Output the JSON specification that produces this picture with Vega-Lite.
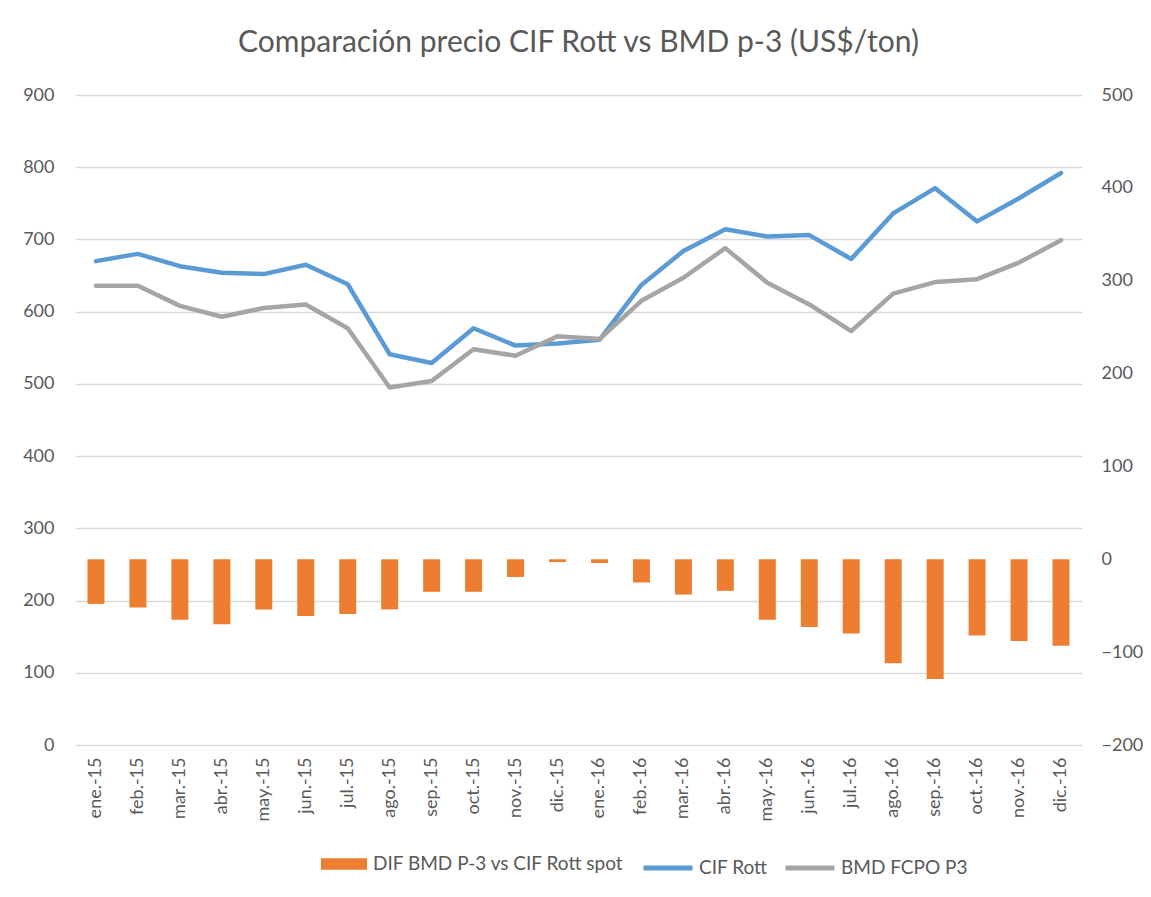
{
  "$schema": "https://vega.github.io/schema/vega-lite/v6.json",
  "autosize": {"type": "none"},
  "width": 1007,
  "height": 650,
  "padding": {"left": 75, "top": 95, "right": 69, "bottom": 152},
  "background": "white",
  "config": {
    "font": "Lato",
    "view": {"stroke": null},
    "axis": {"labelColor": "#595959", "labelFontSize": 18, "labelFont": "Lato", "domain": false, "ticks": false, "title": null},
    "legend": {"labelColor": "#595959", "labelFontSize": 19, "labelFont": "Lato", "labelLimit": 400}
  },
  "title": {
    "text": "Comparación precio CIF Rott vs BMD p-3 (US$/ton)",
    "fontSize": 30,
    "font": "Lato",
    "fontWeight": "normal",
    "color": "#595959",
    "anchor": "middle",
    "frame": "group",
    "baseline": "alphabetic",
    "offset": 4
  },
  "data": {
    "values": [
      {"mes": "ene.-15", "serie": "CIF Rott", "valor": 670},
      {"mes": "feb.-15", "serie": "CIF Rott", "valor": 680},
      {"mes": "mar.-15", "serie": "CIF Rott", "valor": 663},
      {"mes": "abr.-15", "serie": "CIF Rott", "valor": 654},
      {"mes": "may.-15", "serie": "CIF Rott", "valor": 652},
      {"mes": "jun.-15", "serie": "CIF Rott", "valor": 665},
      {"mes": "jul.-15", "serie": "CIF Rott", "valor": 638},
      {"mes": "ago.-15", "serie": "CIF Rott", "valor": 541},
      {"mes": "sep.-15", "serie": "CIF Rott", "valor": 529},
      {"mes": "oct.-15", "serie": "CIF Rott", "valor": 577},
      {"mes": "nov.-15", "serie": "CIF Rott", "valor": 553},
      {"mes": "dic.-15", "serie": "CIF Rott", "valor": 556},
      {"mes": "ene.-16", "serie": "CIF Rott", "valor": 561},
      {"mes": "feb.-16", "serie": "CIF Rott", "valor": 637},
      {"mes": "mar.-16", "serie": "CIF Rott", "valor": 684},
      {"mes": "abr.-16", "serie": "CIF Rott", "valor": 714},
      {"mes": "may.-16", "serie": "CIF Rott", "valor": 704},
      {"mes": "jun.-16", "serie": "CIF Rott", "valor": 706},
      {"mes": "jul.-16", "serie": "CIF Rott", "valor": 673},
      {"mes": "ago.-16", "serie": "CIF Rott", "valor": 736},
      {"mes": "sep.-16", "serie": "CIF Rott", "valor": 771},
      {"mes": "oct.-16", "serie": "CIF Rott", "valor": 725},
      {"mes": "nov.-16", "serie": "CIF Rott", "valor": 757},
      {"mes": "dic.-16", "serie": "CIF Rott", "valor": 792},
      {"mes": "ene.-15", "serie": "BMD FCPO P3", "valor": 636},
      {"mes": "feb.-15", "serie": "BMD FCPO P3", "valor": 636},
      {"mes": "mar.-15", "serie": "BMD FCPO P3", "valor": 608},
      {"mes": "abr.-15", "serie": "BMD FCPO P3", "valor": 593},
      {"mes": "may.-15", "serie": "BMD FCPO P3", "valor": 605},
      {"mes": "jun.-15", "serie": "BMD FCPO P3", "valor": 610},
      {"mes": "jul.-15", "serie": "BMD FCPO P3", "valor": 577},
      {"mes": "ago.-15", "serie": "BMD FCPO P3", "valor": 495},
      {"mes": "sep.-15", "serie": "BMD FCPO P3", "valor": 504},
      {"mes": "oct.-15", "serie": "BMD FCPO P3", "valor": 548},
      {"mes": "nov.-15", "serie": "BMD FCPO P3", "valor": 539},
      {"mes": "dic.-15", "serie": "BMD FCPO P3", "valor": 566},
      {"mes": "ene.-16", "serie": "BMD FCPO P3", "valor": 562},
      {"mes": "feb.-16", "serie": "BMD FCPO P3", "valor": 615},
      {"mes": "mar.-16", "serie": "BMD FCPO P3", "valor": 647},
      {"mes": "abr.-16", "serie": "BMD FCPO P3", "valor": 688},
      {"mes": "may.-16", "serie": "BMD FCPO P3", "valor": 640},
      {"mes": "jun.-16", "serie": "BMD FCPO P3", "valor": 610},
      {"mes": "jul.-16", "serie": "BMD FCPO P3", "valor": 573},
      {"mes": "ago.-16", "serie": "BMD FCPO P3", "valor": 625},
      {"mes": "sep.-16", "serie": "BMD FCPO P3", "valor": 641},
      {"mes": "oct.-16", "serie": "BMD FCPO P3", "valor": 645},
      {"mes": "nov.-16", "serie": "BMD FCPO P3", "valor": 668},
      {"mes": "dic.-16", "serie": "BMD FCPO P3", "valor": 699},
      {"mes": "ene.-15", "serie": "DIF BMD P-3 vs CIF Rott spot", "valor": -48},
      {"mes": "feb.-15", "serie": "DIF BMD P-3 vs CIF Rott spot", "valor": -52},
      {"mes": "mar.-15", "serie": "DIF BMD P-3 vs CIF Rott spot", "valor": -65},
      {"mes": "abr.-15", "serie": "DIF BMD P-3 vs CIF Rott spot", "valor": -70},
      {"mes": "may.-15", "serie": "DIF BMD P-3 vs CIF Rott spot", "valor": -54},
      {"mes": "jun.-15", "serie": "DIF BMD P-3 vs CIF Rott spot", "valor": -61},
      {"mes": "jul.-15", "serie": "DIF BMD P-3 vs CIF Rott spot", "valor": -59},
      {"mes": "ago.-15", "serie": "DIF BMD P-3 vs CIF Rott spot", "valor": -54},
      {"mes": "sep.-15", "serie": "DIF BMD P-3 vs CIF Rott spot", "valor": -35},
      {"mes": "oct.-15", "serie": "DIF BMD P-3 vs CIF Rott spot", "valor": -35},
      {"mes": "nov.-15", "serie": "DIF BMD P-3 vs CIF Rott spot", "valor": -19},
      {"mes": "dic.-15", "serie": "DIF BMD P-3 vs CIF Rott spot", "valor": -3},
      {"mes": "ene.-16", "serie": "DIF BMD P-3 vs CIF Rott spot", "valor": -4},
      {"mes": "feb.-16", "serie": "DIF BMD P-3 vs CIF Rott spot", "valor": -25},
      {"mes": "mar.-16", "serie": "DIF BMD P-3 vs CIF Rott spot", "valor": -38},
      {"mes": "abr.-16", "serie": "DIF BMD P-3 vs CIF Rott spot", "valor": -34},
      {"mes": "may.-16", "serie": "DIF BMD P-3 vs CIF Rott spot", "valor": -65},
      {"mes": "jun.-16", "serie": "DIF BMD P-3 vs CIF Rott spot", "valor": -73},
      {"mes": "jul.-16", "serie": "DIF BMD P-3 vs CIF Rott spot", "valor": -80},
      {"mes": "ago.-16", "serie": "DIF BMD P-3 vs CIF Rott spot", "valor": -112},
      {"mes": "sep.-16", "serie": "DIF BMD P-3 vs CIF Rott spot", "valor": -129},
      {"mes": "oct.-16", "serie": "DIF BMD P-3 vs CIF Rott spot", "valor": -82},
      {"mes": "nov.-16", "serie": "DIF BMD P-3 vs CIF Rott spot", "valor": -88},
      {"mes": "dic.-16", "serie": "DIF BMD P-3 vs CIF Rott spot", "valor": -93}
    ]
  },
  "encoding": {
    "x": {
      "field": "mes",
      "type": "ordinal",
      "sort": null,
      "scale": {"paddingInner": 0, "paddingOuter": 0},
      "axis": {"labelAngle": -90, "labelAlign": "right", "labelBaseline": "middle", "labelPadding": 12, "grid": false}
    }
  },
  "layer": [
    {
      "transform": [{"filter": "datum.serie === 'DIF BMD P-3 vs CIF Rott spot'"}],
      "mark": {"type": "bar", "width": {"band": 0.405}},
      "encoding": {
        "y": {
          "field": "valor",
          "type": "quantitative",
          "scale": {"domain": [-200, 500], "nice": false, "zero": false},
          "axis": {"orient": "right", "values": [-200, -100, 0, 100, 200, 300, 400, 500], "grid": false, "labelPadding": 19}
        },
        "fill": {
          "field": "serie",
          "type": "nominal",
          "scale": {"domain": ["DIF BMD P-3 vs CIF Rott spot"], "range": ["#ED7D31"]},
          "legend": {
            "title": null,
            "orient": "none",
            "direction": "horizontal",
            "legendX": 246,
            "legendY": 746,
            "padding": 0,
            "symbolType": "M-1,-0.25H1V0.25H-1Z",
            "symbolSize": 2116,
            "symbolStrokeWidth": 0,
            "labelOffset": 6
          }
        }
      }
    },
    {
      "transform": [{"filter": "datum.serie !== 'DIF BMD P-3 vs CIF Rott spot'"}],
      "mark": {"type": "line", "strokeWidth": 4.5, "strokeCap": "round", "strokeJoin": "round"},
      "encoding": {
        "y": {
          "field": "valor",
          "type": "quantitative",
          "scale": {"domain": [0, 900], "nice": false},
          "axis": {"orient": "left", "values": [0, 100, 200, 300, 400, 500, 600, 700, 800, 900], "grid": true, "gridColor": "#D9D9D9", "gridWidth": 1.3, "labelPadding": 21}
        },
        "stroke": {
          "field": "serie",
          "type": "nominal",
          "sort": null,
          "scale": {"domain": ["CIF Rott", "BMD FCPO P3"], "range": ["#5B9BD5", "#A5A5A5"]},
          "legend": {
            "title": null,
            "orient": "none",
            "direction": "horizontal",
            "legendX": 566,
            "legendY": 746,
            "padding": 0,
            "symbolType": "stroke",
            "symbolSize": 2401,
            "symbolStrokeWidth": 5,
            "labelOffset": 4,
            "columnPadding": 7
          }
        },
        "detail": {"field": "serie"}
      }
    }
  ],
  "resolve": {"scale": {"y": "independent"}}
}
